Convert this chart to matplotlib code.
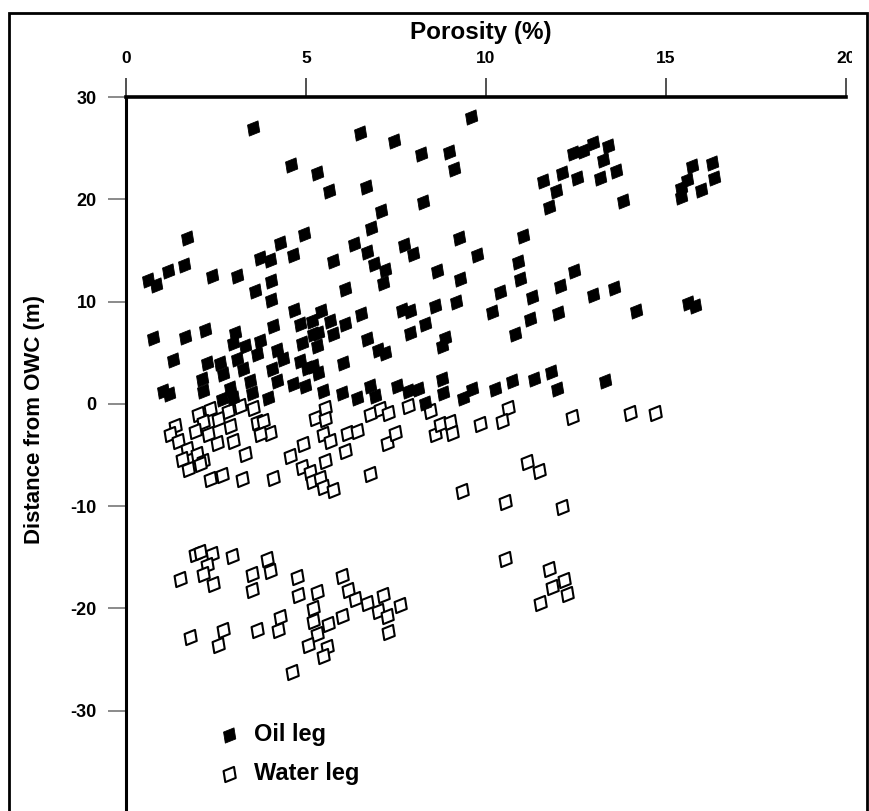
import numpy as np
import matplotlib
matplotlib.use("Agg")
import matplotlib.pyplot as plt
from matplotlib.path import Path
from matplotlib.patches import Rectangle
from matplotlib.transforms import Bbox

plt.rcParams['font.family'] = ['Liberation Sans', 'DejaVu Sans']
plt.rcParams['font.weight'] = 'bold'
plt.rcParams['axes.unicode_minus'] = False

# oil leg samples: porosity (%), distance from OWC (m)
oil_x = [3.52, 6.5, 7.44, 9.58, 8.19, 8.97, 9.10, 4.59, 5.31, 5.64, 6.66, 8.24, 7.08, 6.80,
         4.94, 4.28, 4.63, 3.72, 4.0, 1.69, 1.61, 1.18, 0.62, 0.83, 2.38, 3.09, 5.76, 6.33,
         6.69, 6.89, 7.19, 7.13, 7.72, 7.98, 9.25, 8.63, 9.28, 9.76, 3.57, 4.02, 4.02, 6.08,
         4.68, 5.41, 6.53, 7.68, 7.89, 8.58, 9.17,
         12.43, 12.70, 12.98, 13.40, 13.24, 12.10, 11.59, 12.52, 13.17, 13.61, 11.94, 11.76,
         13.80, 15.71, 16.27, 16.33, 15.57, 15.43, 15.43, 15.96, 11.04, 10.9, 10.94, 10.39,
         10.16, 11.27, 11.22, 12.06, 12.45, 12.01, 12.98, 13.56, 14.17, 15.6, 15.8,
         0.76, 1.64, 2.19, 1.31, 3.03, 2.98, 4.09, 4.83, 5.16, 3.31, 3.72, 3.63, 4.19, 4.37,
         4.88, 4.83, 5.19, 3.07, 2.24, 2.61, 3.26, 2.10, 2.70, 2.15, 4.05, 4.19, 3.44, 3.49,
         2.89, 2.98, 2.66, 4.65, 4.97, 3.95, 1.04, 1.2, 5.2,
         5.67, 5.34, 5.76, 6.08, 5.3, 5.02, 6.69, 7.0, 7.19, 6.04, 5.34, 7.89, 8.3, 8.86,
         8.77, 5.48, 5.99, 6.41, 6.78, 6.92, 7.52, 7.84, 8.12, 8.3, 8.77, 8.81, 9.37, 9.6,
         10.25, 10.8, 10.73, 11.33, 11.8, 11.98, 13.3]
oil_y = [27.0, 26.5, 25.7, 28.0, 24.4, 24.6, 23.0, 23.4, 22.6, 20.8, 21.2, 19.7, 18.9, 17.2,
         16.6, 15.7, 14.6, 14.3, 14.1, 16.2, 13.6, 13.0, 12.1, 11.6, 12.5, 12.5, 14.0, 15.6,
         14.8, 13.7, 13.1, 11.8, 15.5, 14.7, 16.2, 13.0, 12.2, 14.6, 11.0, 12.0, 10.2, 11.25,
         9.2, 9.1, 8.75, 9.2, 9.1, 9.6, 9.95,
         24.5, 24.7, 25.5, 25.2, 23.8, 22.6, 21.8, 22.1, 22.1, 22.8, 20.8, 19.2,
         19.8, 23.3, 23.5, 22.1, 21.9, 21.1, 20.2, 20.9, 16.4, 13.9, 12.2, 10.96,
         9.0, 10.4, 8.3, 11.5, 13.0, 8.9, 10.6, 11.3, 9.1, 9.9, 9.6,
         6.47, 6.5, 7.2, 4.26, 6.96, 6.0, 7.6, 7.8, 8.1, 5.66, 6.15, 4.85, 5.3, 4.36,
         6.0, 4.2, 6.8, 4.36, 4.0, 4.0, 3.4, 2.4, 2.9, 1.27, 3.4, 2.25, 2.25, 1.1,
         1.6, 0.6, 0.46, 1.9, 1.75, 0.6, 1.27, 1.0, 3.7,
         8.1, 6.96, 6.8, 7.8, 5.66, 3.54, 6.3, 5.3, 5.0, 4.0, 3.05, 6.96, 7.8, 6.47,
         5.66, 1.27, 1.1, 0.6, 1.75, 0.78, 1.75, 1.27, 1.43, 0.13, 2.4, 1.1, 0.6, 1.43,
         1.43, 6.86, 2.25, 2.4, 3.1, 1.43, 2.25]

# water leg samples
water_x = [2.01, 2.33, 2.84, 3.17, 3.54, 1.36, 1.22, 2.15, 2.56, 2.89, 1.92, 1.45, 2.29, 3.63,
           3.81, 4.0, 3.72, 1.69, 1.96, 1.55, 1.73, 2.15, 2.05, 2.52, 2.98, 3.31, 4.56, 4.93,
           2.33, 2.66, 3.21, 4.09, 5.25, 5.48, 4.88,
           5.53, 5.53, 5.67, 6.13, 6.41, 6.08, 5.53, 5.11, 5.16, 5.39, 5.48, 5.76,
           6.78, 7.06, 7.29, 7.84, 7.24, 7.47, 6.78, 8.44, 8.58, 8.72, 9.0, 9.05, 9.83, 9.32,
           10.62, 10.44, 12.38, 14.0, 14.69,
           11.13, 11.48, 10.53, 12.1, 10.53, 11.75, 11.82, 12.18, 12.24, 11.5,
           1.92, 2.06, 2.38, 2.24, 2.15, 1.5, 2.43, 2.94, 3.91, 4.0, 3.49, 3.49, 4.74, 4.79,
           5.3, 5.2, 5.2, 5.3, 5.06, 5.62, 5.99, 5.57, 5.48, 4.6, 5.99, 6.18, 6.36, 6.69,
           7.0, 7.15, 7.24, 7.61, 7.29, 1.78, 2.7, 2.56, 3.63, 4.23, 4.28]
water_y = [-1.0, -0.52, -0.68, -0.2, -0.36, -2.15, -2.96, -1.82, -1.5, -2.15, -2.63, -3.6, -2.96, -1.82,
           -1.66, -2.8, -2.96, -4.4, -4.9, -5.4, -6.4, -5.56, -5.9, -3.78, -3.6, -4.9, -5.07, -3.93,
           -7.35, -7.0, -7.35, -7.2, -1.4, -2.96, -6.2,
           -0.4, -1.5, -3.6, -2.8, -2.63, -4.6, -5.56, -6.7, -7.5, -7.2, -8.1, -8.4,
           -1.0, -0.52, -0.85, -0.2, -3.78, -2.8, -6.86, -0.68, -2.96, -1.98, -1.82, -2.8, -1.98, -8.5,
           -0.42, -1.72, -1.27, -0.85, -0.94,
           -5.7, -6.6, -9.6, -10.1, -15.15, -16.1, -17.9, -17.2, -18.6, -19.5,
           -14.66, -14.5, -14.66, -15.8, -16.6, -17.1, -17.6, -14.9, -15.15, -16.3, -16.6, -18.2, -16.9, -18.7,
           -18.4, -20.0, -21.2, -22.5, -23.6, -21.5, -20.7, -23.8, -24.6, -26.2, -16.8, -18.2, -19.05, -19.5,
           -20.2, -18.7, -20.7, -19.7, -22.3, -22.8, -22.1, -23.6, -22.1, -22.1, -20.8]

x_ticks = [0, 5, 10, 15, 20]
y_ticks = [-30, -20, -10, 0, 10, 20, 30]

# skewed square marker like the original
quad = Path([(-5.7, 3.3), (4.3, 7.3), (6.0, -3.3), (-4.0, -7.3), (-5.7, 3.3)],
            [Path.MOVETO, Path.LINETO, Path.LINETO, Path.LINETO, Path.CLOSEPOLY])

W, H = 870, 811
fig = plt.figure(figsize=(W / 100, H / 100), dpi=100)
ax = fig.add_axes([126 / W, 0, (846 - 126) / W, 1 - 97 / H])

ax.scatter(water_x, water_y, marker=quad, s=120, facecolor='white', edgecolor='black',
           linewidth=1.5, label='Water leg', zorder=3)
ax.scatter(oil_x, oil_y, marker=quad, s=120, facecolor='black', edgecolor='black',
           linewidth=0.6, label='Oil leg', zorder=4)

ax.set_xlim(0, 20)
ax.set_ylim(-39.8, 30)
ax.xaxis.tick_top()
ax.set_xticks(x_ticks)
ax.set_xticklabels([str(v) for v in x_ticks])
ax.set_yticks(y_ticks)
ax.tick_params(axis='x', direction='out', length=14, width=1.2, color='#333333',
               pad=8, labelsize=12.5)
ax.tick_params(axis='y', direction='out', length=13, width=1.2, color='#777777',
               pad=8, labelsize=13)
for s in ['right', 'bottom']:
    ax.spines[s].set_visible(False)
ax.spines['left'].set_linewidth(2.2)
ax.spines['top'].set_linewidth(2.6)

# the last top label is cut off by the page edge in the original
last = ax.get_xticklabels()[-1]
last.set_clip_box(Bbox.from_extents(0, 0, 852, H))
last.set_clip_on(True)

fig.text(481 / W, 1 - 33 / H, 'Porosity (%)', ha='center', va='center',
         fontsize=17.5, fontweight='bold')
fig.text(35 / W, 1 - 420 / H, 'Distance from OWC (m)', ha='center', va='center',
         rotation=90, fontsize=16, fontweight='bold')

h, l = ax.get_legend_handles_labels()
ax.legend(h[::-1], l[::-1], loc='upper left', bbox_to_anchor=(217 / W, 1 - 723 / H),
          bbox_transform=fig.transFigure, frameon=False, fontsize=17, handlelength=1.0,
          handletextpad=0.55, labelspacing=0.68, borderpad=0, borderaxespad=0)

fig.add_artist(Rectangle((9 / W, -0.02), (867 - 9) / W, 1.02 - 13 / H, transform=fig.transFigure,
                         fill=False, edgecolor='black', linewidth=2))

fig.savefig('out.png', dpi=100)
